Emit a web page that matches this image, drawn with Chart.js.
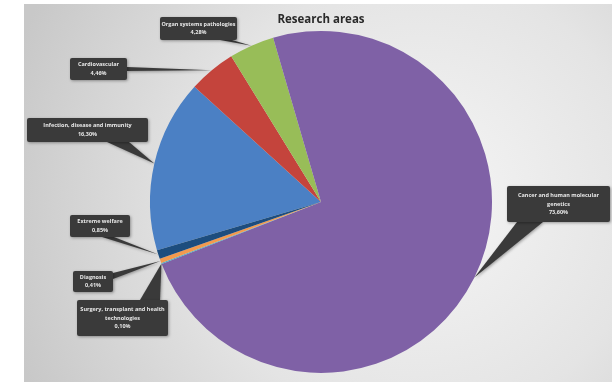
<!DOCTYPE html>
<html>
<head>
<meta charset="utf-8">
<script src="https://cdn.jsdelivr.net/npm/chart.js@4.4.1/dist/chart.umd.min.js"></script>
<style>
  html, body { margin: 0; padding: 0; background: #fff; }
  #c { display: block; }
</style>
</head>
<body>
<canvas id="c" width="612" height="382"></canvas>
<script>
// data, in drawing order (clockwise)
const areas = [
  'Infection, disease and immunity',
  'Cardiovascular',
  'Organ systems pathologies',
  'Cancer and human molecular genetics',
  'Surgery, transplant and health technologies',
  'Diagnosis',
  'Extreme welfare'
];
const shares = [16.30, 4.46, 4.28, 73.60, 0.10, 0.41, 0.85];
const sliceColors = ['#4b80c4', '#c4443c', '#98bd58', '#7f61a6', '#4bacc6', '#f39a4e', '#1d4d7e'];

// callout text lines (percent appended from shares)
const calloutLines = [
  ['Infection, disease and immunity'],
  ['Cardiovascular'],
  ['Organ systems pathologies'],
  ['Cancer and human molecular', 'genetics'],
  ['Surgery, transplant and health', 'technologies'],
  ['Diagnosis'],
  ['Extreme welfare']
];
// callout boxes [x, y, w, h] and pointer base [x, y, width, side]
const calloutBoxes = [
  [27, 118, 121, 24],
  [70, 58, 57, 22],
  [160, 17, 77, 23],
  [507, 186, 103, 36],
  [77, 300, 91, 36],
  [73, 271, 40, 21],
  [70, 215, 60, 22]
];
const calloutBases = [
  [118, 142, 22, 'v'],
  [127, 69, 4, 'h'],
  [226, 40, 12, 'v'],
  [530, 222, 26, 'v'],
  [150, 300, 20, 'v'],
  [113, 276, 6, 'h'],
  [108, 237, 12, 'v']
];

const fmtPct = v => v.toFixed(2).replace('.', ',') + '%';

const backdrop = {
  id: 'backdrop',
  beforeDraw(chart) {
    const ctx = chart.ctx;
    ctx.save();
    ctx.fillStyle = '#ffffff';
    ctx.fillRect(0, 0, chart.width, chart.height);
    const g = ctx.createRadialGradient(420, 200, 20, 420, 200, 430);
    g.addColorStop(0, '#f4f4f4');
    g.addColorStop(0.5, '#e4e4e4');
    g.addColorStop(1, '#c8c8c8');
    ctx.fillStyle = g;
    ctx.fillRect(24, 4, chart.width - 24, chart.height - 4);
    ctx.restore();
  }
};

const callouts = {
  id: 'callouts',
  afterDatasetsDraw(chart) {
    const ctx = chart.ctx;
    const arcs = chart.getDatasetMeta(0).data;
    ctx.save();
    arcs.forEach((arc, i) => {
      const p = arc.getProps(['x', 'y', 'startAngle', 'endAngle', 'outerRadius'], true);
      const mid = (p.startAngle + p.endAngle) / 2;
      const tx = p.x + Math.cos(mid) * p.outerRadius;
      const ty = p.y + Math.sin(mid) * p.outerRadius;
      const [bx, by, bw, side] = calloutBases[i];
      const [x, y, w, h] = calloutBoxes[i];
      ctx.shadowColor = 'rgba(0,0,0,0.35)';
      ctx.shadowBlur = 3;
      ctx.shadowOffsetX = 1;
      ctx.shadowOffsetY = 1;
      ctx.fillStyle = '#3a3a3a';
      ctx.beginPath();
      if (side === 'v') { ctx.moveTo(bx - bw/2, by); ctx.lineTo(bx + bw/2, by); }
      else { ctx.moveTo(bx, by - bw/2); ctx.lineTo(bx, by + bw/2); }
      ctx.lineTo(tx, ty);
      ctx.closePath();
      ctx.fill();
      ctx.beginPath();
      ctx.roundRect(x, y, w, h, 2);
      ctx.fill();
      ctx.shadowColor = 'transparent';
      const lines = calloutLines[i].concat([fmtPct(shares[i])]);
      ctx.fillStyle = '#e8e8e8';
      ctx.font = 'bold 5.5px "Open Sans", sans-serif';
      ctx.textAlign = 'center';
      ctx.textBaseline = 'middle';
      const lh = 8.5;
      const y0 = y + h/2 - (lines.length - 1) * lh / 2;
      lines.forEach((t, k) => ctx.fillText(t, x + w/2, y0 + k * lh));
    });
    ctx.restore();
  }
};

new Chart(document.getElementById('c'), {
  type: 'pie',
  data: {
    labels: areas,
    datasets: [{ data: shares, backgroundColor: sliceColors, borderWidth: 0 }]
  },
  options: {
    responsive: false,
    devicePixelRatio: 1,
    animation: false,
    rotation: 253.6,
    layout: { padding: { left: 150, right: 120, top: 0, bottom: 9 } },
    plugins: {
      legend: { display: false },
      tooltip: { enabled: false },
      title: {
        display: true,
        text: 'Research areas',
        color: '#2a2a2a',
        font: { family: '"Open Sans", sans-serif', size: 11.5, weight: 'bold' },
        padding: { top: 13, bottom: 4 }
      }
    }
  },
  plugins: [backdrop, callouts]
});
</script>
</body>
</html>
